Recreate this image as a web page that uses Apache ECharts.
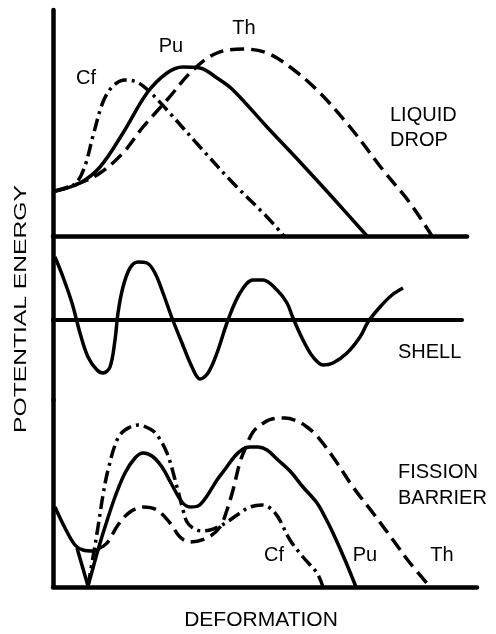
<!DOCTYPE html>
<html>
<head>
<meta charset="utf-8">
<script src="https://cdn.jsdelivr.net/npm/echarts@6/dist/echarts.min.js"></script>
<style>
html,body{margin:0;padding:0;background:#fff;}
#chart{width:496px;height:634px;}
</style>
</head>
<body>
<div id="chart"></div>
<script>
// ---- Data (deformation, energy) ----
// Panel 1: liquid drop energy
var ldCf = [[0.05,2.25],[0.35,2.4],[0.6,2.7],[0.8,3.5],[1.0,5.0],[1.25,6.7],[1.5,7.5],[1.8,7.8],[2.1,7.7],[2.425,7.2],[2.85,6.3],[3.675,4.45],[4.5,2.65],[5.35,0.95],[5.775,0]];
var ldPu = [[0.05,2.25],[0.675,2.65],[1.175,3.45],[1.75,5.15],[2.35,7.15],[2.85,8.15],[3.25,8.45],[3.675,8.4],[4.1,7.9],[4.5,7.3],[5.35,5.45],[6.175,3.7],[7.0,1.9],[7.85,0]];
var ldTh = [[0.05,2.25],[0.675,2.65],[1.175,3.15],[1.75,4.15],[2.25,5.45],[2.85,6.8],[3.5,8.3],[4.1,9.15],[4.75,9.35],[5.35,9.15],[5.925,8.45],[6.6,7.3],[7.425,5.45],[8.25,3.3],[8.925,1.65],[9.475,0]];
// Panel 2: shell correction
var shell = [[0.05,3.15],[0.25,2.15],[0.475,0.85],[0.675,-0.65],[0.875,-1.85],[1.1,-2.5],[1.25,-2.65],[1.425,-2.35],[1.55,-1.0],[1.625,0.35],[1.75,1.65],[1.925,2.6],[2.125,2.9],[2.35,2.85],[2.55,2.35],[2.75,1.35],[2.975,0.1],[3.225,-1.15],[3.475,-2.35],[3.675,-2.95],[3.875,-2.65],[4.1,-1.65],[4.375,0],[4.675,1.35],[5.0,2.0],[5.25,2.0],[5.6,1.5],[5.85,0.85],[6.0,0.1],[6.25,-1.0],[6.5,-1.85],[6.75,-2.25],[7.0,-2.15],[7.35,-1.65],[7.675,-0.85],[7.875,-0.1],[8.175,0.65],[8.475,1.25],[8.75,1.6]];
// Panel 3: fission barrier
var fbGround = [[0.05,4.0],[0.3,2.95],[0.55,2.1],[0.75,1.85],[1.0,1.8],[1.15,1.9],null,[0.6,1.95],[0.875,0.05]];
var fbCf = [[0.875,0.05],[1.0,1.5],[1.125,3.0],[1.25,4.6],[1.375,5.85],[1.6,7.35],[1.8,7.85],[2.125,8.1],[2.425,7.9],[2.6,7.6],[2.85,6.7],[3.1,5.0],[3.25,3.85],[3.35,3.25],[3.5,2.95],[3.725,2.8],[3.925,2.85],[4.125,3.0],[4.35,3.25],[4.675,3.7],[4.925,4.0],[5.225,4.1],[5.425,3.95],[5.625,3.5],[5.925,2.35],[6.25,1.5],[6.6,0.7],[6.75,0]];
var fbPu = [[0.875,0.05],[1.0,0.95],[1.125,1.85],[1.3,3.0],[1.55,4.5],[1.8,5.7],[2.05,6.45],[2.25,6.7],[2.475,6.55],[2.725,6.0],[2.975,5.1],[3.225,4.25],[3.425,4.0],[3.625,4.05],[3.85,4.55],[4.1,5.35],[4.325,5.95],[4.55,6.55],[4.75,6.9],[4.925,7.0],[5.125,7.0],[5.35,6.85],[5.625,6.35],[5.925,5.8],[6.25,5.0],[6.6,4.2],[6.8,3.5],[7.0,2.7],[7.3,1.35],[7.575,0]];
var fbTh = [[1.125,1.9],[1.35,2.2],[1.625,3.1],[1.925,3.75],[2.25,4.0],[2.6,3.85],[2.925,3.2],[3.175,2.5],[3.425,2.25],[3.85,2.45],[4.175,3.0],[4.35,3.85],[4.5,4.85],[4.675,6.25],[4.8,6.9],[5.0,7.75],[5.225,8.15],[5.475,8.4],[5.8,8.45],[6.1,8.3],[6.35,8.0],[6.6,7.55],[7.0,6.5],[7.5,5.0],[8.0,3.7],[8.5,2.35],[8.925,1.2],[9.425,0]];

var nuclides = ['Cf','Pu','Th'];
var panelNames = [['LIQUID','DROP'],['SHELL'],['FISSION','BARRIER']];
var axisNames = {x:'DEFORMATION', y:'POTENTIAL ENERGY'};

var chart = echarts.init(document.getElementById('chart'), null, {renderer:'canvas'});
var FONT = '"Liberation Sans", Arial, sans-serif';
var dashTh = [14,7];
var dashCf = [13,5,3,5];

function ax(idx, min, max, w){
  return {
    type:'value', gridIndex:idx, min:min, max:max,
    axisLine:{show:true, onZero:true, lineStyle:{color:'#000', width:w}},
    axisTick:{show:false}, axisLabel:{show:false}, splitLine:{show:false}
  };
}
function line(name, data, xi, dash){
  return {
    name:name, type:'line', xAxisIndex:xi, yAxisIndex:xi, data:data,
    smooth:0.35, showSymbol:false, symbol:'none', connectNulls:false,
    lineStyle:{color:'#000', width:3.5, type:dash || 'solid', cap:'butt'},
    z:3
  };
}
function txt(x, y, s, size, align){
  return {type:'text', x:x, y:y, silent:true, style:{text:s, font:size+'px '+FONT, fill:'#000', align:align||'left', verticalAlign:'middle'}};
}

var option = {
  animation:false,
  backgroundColor:'#fff',
  grid:[
    {left:53, top:10, right:29, height:226},
    {left:53, top:236, right:34, height:164},
    {left:53, top:400, right:19, height:187}
  ],
  xAxis:[ax(0,0,10.35,4.5), ax(1,0,10.225,4), ax(2,0,10.6,4.5)],
  yAxis:[ax(0,0,11.3,4.5), ax(1,-4,4.2,4.5), ax(2,0,9.35,4.5)],
  series:[
    line('LD '+nuclides[0], ldCf, 0, dashCf),
    line('LD '+nuclides[1], ldPu, 0),
    line('LD '+nuclides[2], ldTh, 0, dashTh),
    line('Shell', shell, 1),
    line('Ground', fbGround, 2),
    line('FB '+nuclides[0], fbCf, 2, dashCf),
    line('FB '+nuclides[1], fbPu, 2),
    line('FB '+nuclides[2], fbTh, 2, dashTh)
  ],
  graphic:[
    txt(86,78,nuclides[0],20,'center'),
    txt(171,46,nuclides[1],20,'center'),
    txt(244,28,nuclides[2],20,'center'),
    txt(390,115,panelNames[0][0],20),
    txt(390,140,panelNames[0][1],20),
    txt(398,352,panelNames[1][0],20),
    txt(398,472,panelNames[2][0],20),
    txt(398,498,panelNames[2][1],20),
    txt(274,555,nuclides[0],20,'center'),
    txt(365,555,nuclides[1],20,'center'),
    txt(442,555,nuclides[2],20,'center'),
    txt(261,620,axisNames.x,21,'center'),
    {type:'text', x:21, y:309, rotation:Math.PI/2, scaleX:1.45, silent:true,
     style:{text:axisNames.y, font:'17px '+FONT, fill:'#000', align:'center', verticalAlign:'middle'}}
  ]
};
chart.setOption(option);
</script>
</body>
</html>
